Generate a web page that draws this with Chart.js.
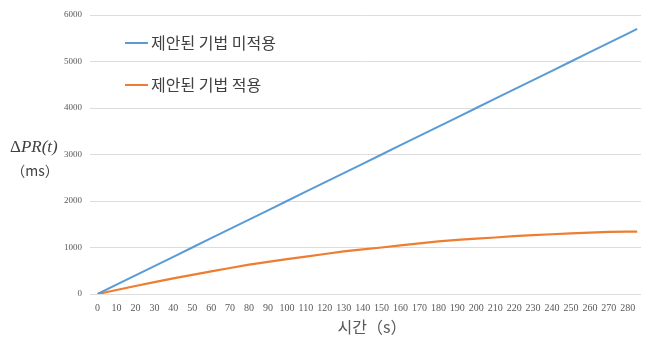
<!DOCTYPE html>
<html>
<head>
<meta charset="utf-8">
<script src="https://cdn.jsdelivr.net/npm/chart.js@4"></script>
<style>
  html, body { margin: 0; padding: 0; background: #fff; }
  #wrap { width: 651px; height: 343px; }
</style>
</head>
<body>
<div id="wrap"><canvas id="c" width="651" height="343"></canvas></div>
<script>
// 시간 (s)
const times = [0, 10, 20, 30, 40, 50, 60, 70, 80, 90, 100, 110, 120, 130, 140,
  150, 160, 170, 180, 190, 200, 210, 220, 230, 240, 250, 260, 270, 280, 285];
// 제안된 기법 미적용 (ms)
const withoutMethod = [0, 200, 400, 600, 800, 1000, 1200, 1400, 1600, 1800, 2000, 2200, 2400, 2600, 2800,
  3000, 3200, 3400, 3600, 3800, 4000, 4200, 4400, 4600, 4800, 5000, 5200, 5400, 5600, 5700];
// 제안된 기법 적용 (ms)
const withMethod = [0, 85, 172, 255, 335, 410, 485, 560, 630, 690, 750, 805, 860, 915, 960,
  1000, 1045, 1090, 1130, 1165, 1190, 1215, 1245, 1265, 1285, 1305, 1320, 1335, 1340, 1340];
const xTickValues = [0, 10, 20, 30, 40, 50, 60, 70, 80, 90, 100, 110, 120, 130, 140,
  150, 160, 170, 180, 190, 200, 210, 220, 230, 240, 250, 260, 270, 280];
const seriesLabels = ['제안된 기법 미적용', '제안된 기법 적용'];
const seriesColors = ['#5b9bd5', '#ed7d31'];

const korFont = '"Noto Sans CJK KR", "Noto Sans", sans-serif';

// custom legend + axis titles, drawn the way the original figure has them
const overlay = {
  id: 'overlay',
  afterDraw(chart) {
    const ctx = chart.ctx;
    ctx.save();
    // legend inside the plot
    chart.data.datasets.forEach((ds, i) => {
      const y = 43 + i * 42;
      ctx.strokeStyle = ds.borderColor;
      ctx.lineWidth = 2;
      ctx.beginPath();
      ctx.moveTo(125, y);
      ctx.lineTo(148, y);
      ctx.stroke();
      ctx.fillStyle = '#404040';
      ctx.font = '16px ' + korFont;
      ctx.textBaseline = 'middle';
      ctx.textAlign = 'left';
      ctx.fillText(ds.label, 151, y);
    });
    // y title: upright delta, italic PR(t)
    ctx.fillStyle = '#404040';
    ctx.textAlign = 'left';
    ctx.font = '17px "Liberation Serif", serif';
    ctx.fillText('Δ', 10, 148);
    const dw = ctx.measureText('Δ').width;
    ctx.font = 'italic 17px "Liberation Serif", serif';
    ctx.fillText('PR(t)', 10 + dw, 148);
    ctx.textAlign = 'center';
    ctx.font = '14px ' + korFont;
    ctx.fillText('（ms）', 35, 171);
    // x title
    ctx.font = '16px ' + korFont;
    ctx.fillStyle = '#595959';
    ctx.fillText('시간（s）', 372, 327);
    ctx.restore();
  }
};

new Chart(document.getElementById('c'), {
  type: 'line',
  data: {
    datasets: [
      {
        label: seriesLabels[0],
        data: times.map((t, i) => ({ x: t, y: withoutMethod[i] })),
        borderColor: seriesColors[0],
        borderWidth: 2,
        pointRadius: 0,
        tension: 0
      },
      {
        label: seriesLabels[1],
        data: times.map((t, i) => ({ x: t, y: withMethod[i] })),
        borderColor: seriesColors[1],
        borderWidth: 2.2,
        pointRadius: 0,
        tension: 0
      }
    ]
  },
  options: {
    responsive: false,
    animation: false,
    layout: { padding: { top: 15, right: 10, bottom: 0, left: 0 } },
    plugins: {
      legend: { display: false },
      tooltip: { enabled: false }
    },
    scales: {
      x: {
        type: 'linear',
        min: -4,
        max: 287,
        afterFit: (scale) => { scale.height = 49; },
        afterBuildTicks: (scale) => {
          scale.ticks = xTickValues.map(v => ({ value: v }));
        },
        ticks: {
          autoSkip: false,
          maxRotation: 0,
          padding: 0,
          color: '#595959',
          font: { family: '"Liberation Serif", serif', size: 10 },
          callback: (v) => String(v)
        },
        grid: { display: false },
        border: { display: false }
      },
      y: {
        min: 0,
        max: 6000,
        afterFit: (scale) => { scale.width = 90; },
        ticks: {
          stepSize: 1000,
          padding: 8,
          color: '#595959',
          font: { family: '"Liberation Serif", serif', size: 9 },
          callback: (v) => String(v)
        },
        grid: { color: '#dcdcdc', drawTicks: false },
        border: { display: false }
      }
    }
  },
  plugins: [overlay]
});
</script>
</body>
</html>
